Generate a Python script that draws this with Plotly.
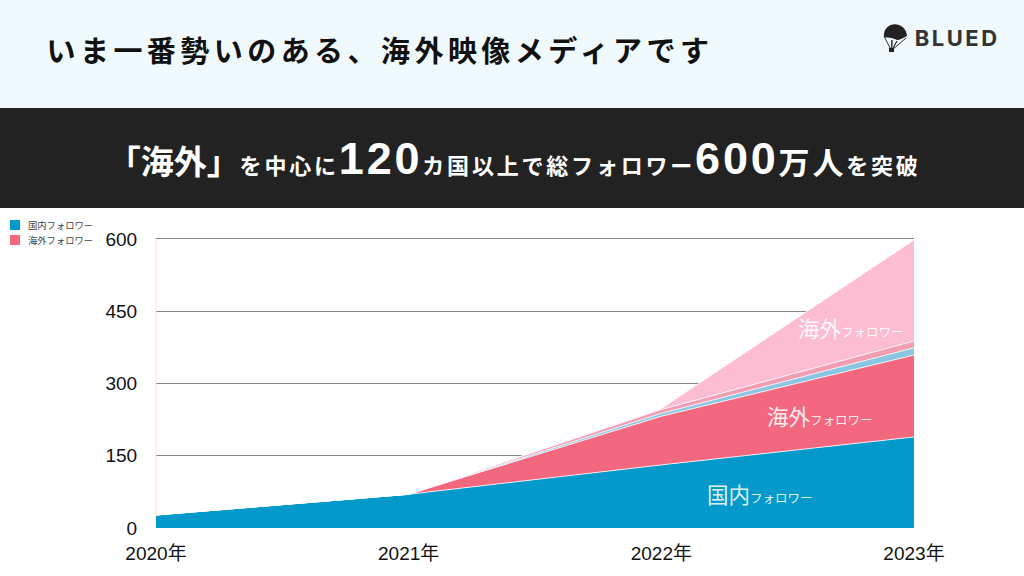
import plotly.graph_objects as go

# values (万人)
years = ["2020年", "2021年", "2022年", "2023年"]
domestic = [27, 70, 131, 189]
overseas = [0, 0, 101, 170]
strip_blue = [0, 0, 6, 15]
strip_pink = [0, 0, 8, 14]
overseas_light = [0, 0, 2, 210]
y_ticks = [0, 150, 300, 450, 600]

series = [
    ("国内フォロワー", domestic, "#0499cb"),
    ("海外フォロワー", overseas, "#f4687f"),
    ("国内フォロワー(2)", strip_blue, "#8ac6e2"),
    ("海外フォロワー(2)", strip_pink, "#f19db2"),
    ("海外フォロワー(3)", overseas_light, "#fcbdd2"),
]

W, H = 1024, 576
JP = "Noto Sans CJK JP"
LATIN = "Liberation Sans"


def px(x):
    return x / W


def py(y):
    return 1 - y / H


def label(x, y, text, size, color, anchor="center", family=JP, bold=False):
    return dict(
        x=px(x), y=py(y), xref="paper", yref="paper", text=text, showarrow=False,
        xanchor=anchor, yanchor="middle", align="center",
        font=dict(size=size, color=color, family=family, weight=700 if bold else 400),
    )


def rect(x0, y0, x1, y1, color):
    return dict(type="rect", xref="paper", yref="paper", x0=px(x0), x1=px(x1),
                y0=py(y0), y1=py(y1), fillcolor=color, line_width=0, layer="below")


def small(big, rest="フォロワー"):
    return f'<span style="font-size:21.5px">{big}</span><span style="font-size:12.5px">{rest}</span>'


fig = go.Figure()
for name, values, color in series:
    fig.add_trace(go.Scatter(
        x=years, y=values, name=name, stackgroup="one", mode="lines",
        fillcolor=color, line=dict(color="white", width=0.8), showlegend=False,
    ))

headline = (
    '<span style="font-size:33px">「海外」</span>を中心に'
    f'<span style="font-size:45px;font-family:{LATIN}">120</span>カ国以上で総フォロワー'
    f'<span style="font-size:45px;font-family:{LATIN}">600</span>'
    '<span style="font-size:31px">万人</span>を突破'
)

shapes = [
    rect(0, 0, W, 108, "#f0fafd"),
    rect(0, 108, W, 208, "#222222"),
    rect(10, 220, 20, 230, "#0499cb"),
    rect(10, 235, 20, 245, "#f4687f"),
    dict(type="line", xref="paper", yref="paper", x0=px(156), x1=px(156),
         y0=py(239), y1=py(515), line=dict(color="#fbd5e0", width=1), layer="above"),
    # logo canopy and cords
    dict(type="path", xref="paper", yref="paper", layer="above", fillcolor="#222222", line_width=0,
         path=f"M {px(884)} {py(38)} C {px(882)} {py(20)}, {px(906)} {py(20)}, {px(907)} {py(36)} "
              f"C {px(903)} {py(38)}, {px(900)} {py(40)}, {px(897)} {py(40)} "
              f"C {px(893)} {py(38)}, {px(888)} {py(37)}, {px(884)} {py(38)} Z"),
    dict(type="path", xref="paper", yref="paper", layer="above", line=dict(color="#333333", width=1),
         path=f"M {px(885)} {py(38)} L {px(891)} {py(50)} L {px(892)} {py(40)} L {px(892)} {py(50)} "
              f"L {px(897)} {py(41)} L {px(892)} {py(50)} L {px(906)} {py(38)}"),
    rect(889, 48, 894, 52, "#222222") | dict(layer="above"),
]

label_color = "rgba(255,255,255,0.9)"
annotations = [
    label(380, 49, "いま一番勢いのある、海外映像メディアです", 29, "#111111", bold=True),
    label(957, 38, "BLUED", 22, "#333333", family="Inter", bold=True),
    label(514, 158, headline, 22, "#ffffff", bold=True),
    label(26, 225, "国内フォロワー", 9.3, "#444444", anchor="left"),
    label(26, 240, "海外フォロワー", 9.3, "#444444", anchor="left"),
    label(760, 493, small("国内"), 21, label_color),
    label(820, 415, small("海外"), 21, label_color),
    label(851, 327, small("海外"), 21, label_color),
]

fig.update_layout(
    width=W, height=H,
    margin=dict(l=0, r=0, t=0, b=0, autoexpand=False),
    paper_bgcolor="white", plot_bgcolor="white",
    shapes=shapes, annotations=annotations,
    font=dict(family=f"{LATIN}, {JP}", color="#111111"),
    xaxis=dict(
        domain=[px(156), px(914)], type="category", range=[0, 3],
        showgrid=False, zeroline=False, showline=False,
        ticks="outside", ticklen=8, tickcolor="rgba(0,0,0,0)",
        tickfont=dict(size=19, family=f"{LATIN}, {JP}"),
    ),
    yaxis=dict(
        # top slightly past 600 so the 600 gridline is kept
        domain=[py(528), py(237)], range=[0, 604], tickvals=y_ticks,
        showgrid=True, gridcolor="#858585", gridwidth=1.2, zeroline=False, showline=False,
        ticks="outside", ticklen=14, tickcolor="rgba(0,0,0,0)",
        tickfont=dict(size=19, family=LATIN),
    ),
)

# plotly has no letter-spacing option, the title texts need it
spacing = """
document.body.style.margin = '0';
var spaced = {'いま一番': '4.45px', 'BLUED': '2.5px', 'を中心に': '2.8px'};
document.querySelectorAll('.annotation-text').forEach(function (el) {
    Object.keys(spaced).forEach(function (key) {
        if (el.textContent.indexOf(key) >= 0) { el.style.letterSpacing = spaced[key]; }
    });
    // the brackets around 海外 sit tight in the headline
    if (el.textContent.indexOf('を中心に') >= 0) {
        el.querySelector('tspan').style.letterSpacing = '0px';
    }
});
"""

fig.write_html("out.html", post_script=spacing, config=dict(displayModeBar=False))
